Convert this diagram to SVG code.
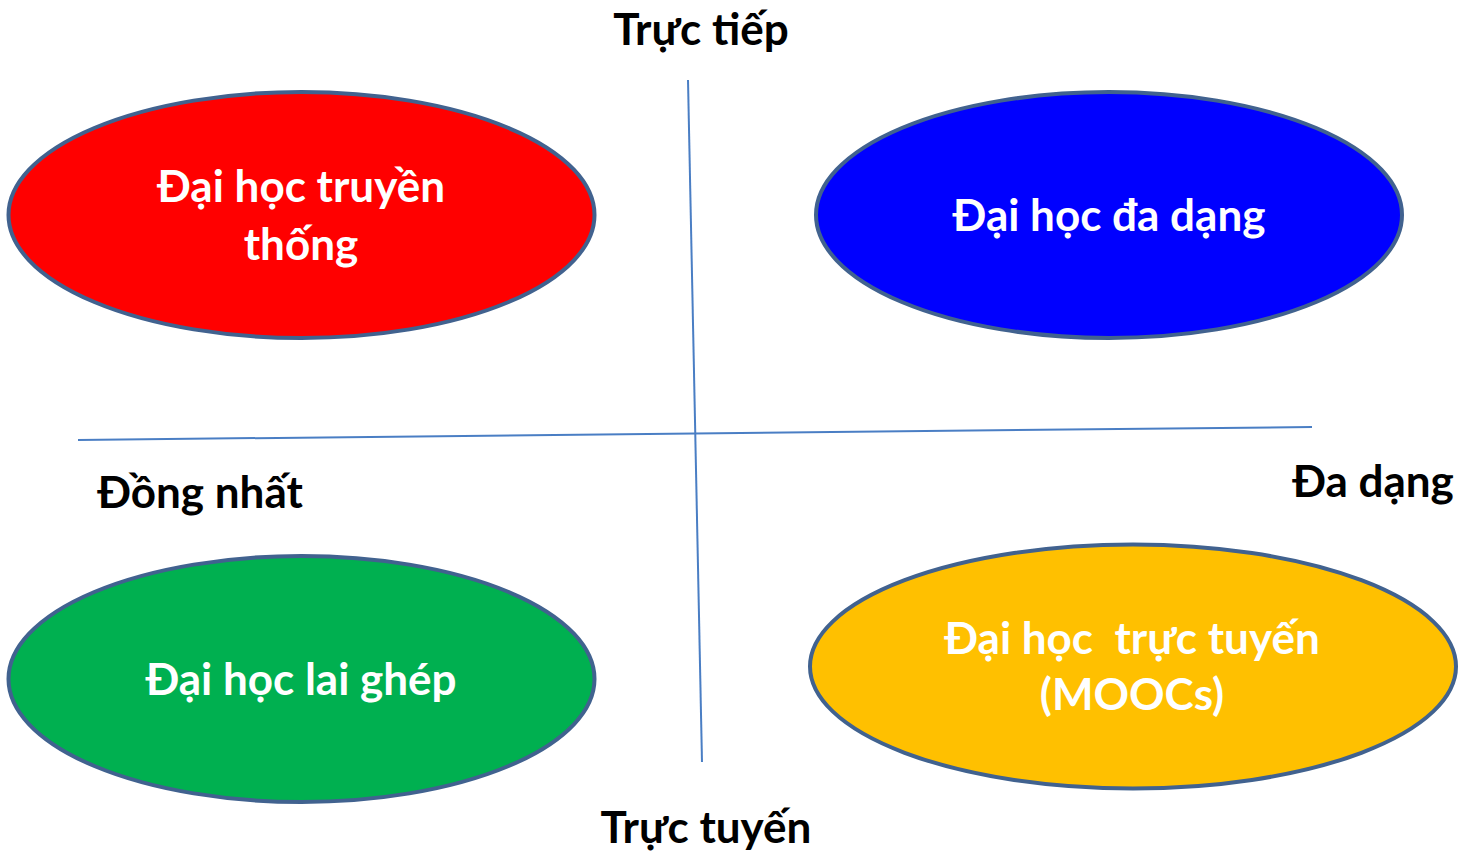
<svg xmlns="http://www.w3.org/2000/svg" width="1462" height="853" viewBox="0 0 1462 853">
<style>
.lbl{font-family:Lato,"Open Sans","Liberation Sans",sans-serif;font-weight:bold;font-size:44px;text-anchor:middle}
.ax{fill:#000}
.in{fill:#fff}
.el{stroke:#41628F;stroke-width:4}
.axis{stroke:#4A7EC4;stroke-width:2;fill:none}
</style>
<rect width="1462" height="853" fill="#fff"/>
<g id="axes">
<line class="axis" x1="688" y1="80" x2="702" y2="762"/>
<line class="axis" x1="78" y1="440" x2="1312" y2="427"/>
</g>
<g id="label-truc-tiep"><text class="lbl ax" x="701" y="45">Trực tiếp</text></g>
<g id="label-truc-tuyen"><text class="lbl ax" x="706" y="843">Trực tuyến</text></g>
<g id="label-dong-nhat"><text class="lbl ax" x="200" y="508">Đồng nhất</text></g>
<g id="label-da-dang"><text class="lbl ax" x="1373" y="497">Đa dạng</text></g>
<g id="node-truyen-thong">
<ellipse class="el" cx="301.5" cy="215" rx="293" ry="123" fill="#FF0000"/>
<text class="lbl in" x="301" y="202">Đại học truyền</text>
<text class="lbl in" x="301" y="260">thống</text>
</g>
<g id="node-da-dang">
<ellipse class="el" cx="1109" cy="215" rx="293" ry="123" fill="#0000FF"/>
<text class="lbl in" x="1109" y="231">Đại học đa dạng</text>
</g>
<g id="node-lai-ghep">
<ellipse class="el" cx="301.5" cy="679" rx="293" ry="123" fill="#00B050"/>
<text class="lbl in" x="301" y="695">Đại học lai ghép</text>
</g>
<g id="node-truc-tuyen">
<ellipse class="el" cx="1133" cy="666.5" rx="323" ry="122" fill="#FFC000"/>
<text class="lbl in" x="1132" y="654" xml:space="preserve">Đại học  trực tuyến</text>
<text class="lbl in" x="1132" y="710">(MOOCs)</text>
</g>
</svg>
